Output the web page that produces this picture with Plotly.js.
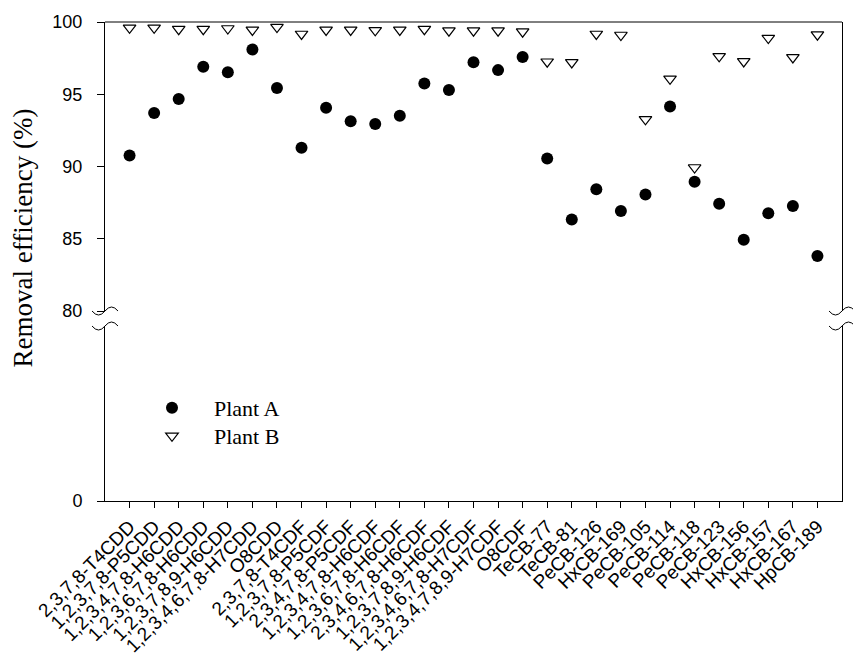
<!DOCTYPE html>
<html>
<head>
<meta charset="utf-8">
<script src="https://cdn.plot.ly/plotly-3.0.1.min.js"></script>
<style>html,body{margin:0;padding:0;background:#fff;}#chart{width:853px;height:658px;}</style>
</head>
<body>
<div id="chart"></div>
<script>
var categories = ["2,3,7,8-T4CDD","1,2,3,7,8-P5CDD","1,2,3,4,7,8-H6CDD","1,2,3,6,7,8-H6CDD","1,2,3,7,8,9-H6CDD","1,2,3,4,6,7,8-H7CDD","O8CDD","2,3,7,8-T4CDF","1,2,3,7,8-P5CDF","2,3,4,7,8-P5CDF","1,2,3,4,7,8-H6CDF","1,2,3,6,7,8-H6CDF","2,3,4,6,7,8-H6CDF","1,2,3,7,8,9-H6CDF","1,2,3,4,6,7,8-H7CDF","1,2,3,4,7,8,9-H7CDF","O8CDF","TeCB-77","TeCB-81","PeCB-126","HxCB-169","PeCB-105","PeCB-114","PeCB-118","PeCB-123","HxCB-156","HxCB-157","HxCB-167","HpCB-189"];
var plantA = [90.76,93.70,94.67,96.90,96.53,98.10,95.44,91.30,94.07,93.13,92.94,93.52,95.74,95.30,97.22,96.67,97.57,90.56,86.34,88.43,86.92,88.06,94.15,88.94,87.43,84.93,86.76,87.27,83.80];
var plantB = [99.60,99.60,99.50,99.50,99.55,99.45,99.65,99.17,99.45,99.45,99.42,99.45,99.50,99.40,99.40,99.40,99.33,97.25,97.20,99.17,99.10,93.26,96.07,89.93,97.62,97.27,98.89,97.55,99.12];
var seriesNames = ["Plant A","Plant B"];
var upperTicks = [80,85,90,95,100];
var lowerTicks = [0];

// layout geometry (pixels)
var W = 853, H = 658, L = 105, R = 11, T = 22, B = 157;
var pw = W - L - R, ph = H - T - B;
function px2x(p){ return (p - L) / pw; }
function py2y(p){ return (H - B - p) / ph; }
var upperBottomPx = 311, lowerTopPx = 326;

function tilde(cx, cy){
  var a = 13, d = 4;
  return 'M' + px2x(cx - a) + ',' + py2y(cy) +
         ' Q' + px2x(cx - a/2) + ',' + py2y(cy + 2*d) + ' ' + px2x(cx) + ',' + py2y(cy) +
         ' Q' + px2x(cx + a/2) + ',' + py2y(cy - 2*d) + ' ' + px2x(cx + a) + ',' + py2y(cy);
}

var serif = "'Times New Roman', 'Liberation Serif', serif";
var sans = "Arial, 'Liberation Sans', sans-serif";

var traces = [
  {x: categories, y: plantA, name: seriesNames[0], type: 'scatter', mode: 'markers',
   xaxis: 'x', yaxis: 'y', cliponaxis: false, legend: 'legend',
   marker: {symbol: 'circle', size: 12, color: '#000', line: {width: 0}}},
  {x: categories, y: plantB, name: seriesNames[1], type: 'scatter', mode: 'markers',
   xaxis: 'x', yaxis: 'y', cliponaxis: false, legend: 'legend2',
   marker: {symbol: 'triangle-down', size: 11, color: '#fff', line: {width: 1.2, color: '#000'}}},
  {x: [], y: [], xaxis: 'x', yaxis: 'y2', type: 'scatter', mode: 'markers', showlegend: false, hoverinfo: 'skip'}
];

var shapes = [
  {type: 'line', xref: 'paper', yref: 'paper', x0: 0, x1: 1, y0: 1, y1: 1, line: {color: '#000', width: 1}},
  {type: 'path', xref: 'paper', yref: 'paper', path: tilde(L, upperBottomPx), line: {color: '#000', width: 1}},
  {type: 'path', xref: 'paper', yref: 'paper', path: tilde(L, lowerTopPx), line: {color: '#000', width: 1}},
  {type: 'path', xref: 'paper', yref: 'paper', path: tilde(W - R, upperBottomPx), line: {color: '#000', width: 1}},
  {type: 'path', xref: 'paper', yref: 'paper', path: tilde(W - R, lowerTopPx), line: {color: '#000', width: 1}}
];

function legendAt(topPx){
  return {x: px2x(130), y: py2y(topPx), xanchor: 'left', yanchor: 'top',
          font: {family: serif, size: 22, color: '#000'}, bgcolor: 'rgba(0,0,0,0)',
          borderwidth: 0, itemwidth: 74};
}

var layout = {
  width: W, height: H,
  margin: {l: L, r: R, t: T, b: B, pad: 0},
  paper_bgcolor: '#fff', plot_bgcolor: 'rgba(0,0,0,0)',
  showlegend: true,
  legend: legendAt(387),
  legend2: legendAt(415),
  xaxis: {type: 'category', range: [-1, 29], anchor: 'y2', domain: [0, 1],
          showline: true, linecolor: '#000', linewidth: 1, mirror: false,
          ticks: 'outside', ticklen: 6, tickwidth: 1, tickcolor: '#000',
          tickangle: -45, tickfont: {family: sans, size: 19, color: '#000'},
          showgrid: false, zeroline: false, automargin: false},
  yaxis: {range: [80, 100], domain: [py2y(upperBottomPx), 1], anchor: 'x',
          tickvals: upperTicks, showline: true, linecolor: '#000', linewidth: 1, mirror: true,
          ticks: 'outside', ticklen: 7, tickwidth: 1, tickcolor: '#000', ticklabelstandoff: 11,
          tickfont: {family: sans, size: 18, color: '#000'},
          showgrid: false, zeroline: false, automargin: false},
  yaxis2: {range: [0, 80], domain: [0, py2y(lowerTopPx)], anchor: 'x',
           tickvals: lowerTicks, showline: true, linecolor: '#000', linewidth: 1, mirror: true,
           ticks: 'outside', ticklen: 7, tickwidth: 1, tickcolor: '#000', ticklabelstandoff: 11,
           tickfont: {family: sans, size: 18, color: '#000'},
           showgrid: false, zeroline: false, automargin: false},
  shapes: shapes,
  annotations: [
    {text: 'Removal efficiency (%)', xref: 'paper', yref: 'paper',
     x: px2x(22), y: py2y(370), xanchor: 'center', yanchor: 'bottom', textangle: -90,
     showarrow: false, font: {family: serif, size: 27, color: '#000'}}
  ]
};

Plotly.newPlot('chart', traces, layout, {displayModeBar: false, staticPlot: true});
</script>
</body>
</html>
